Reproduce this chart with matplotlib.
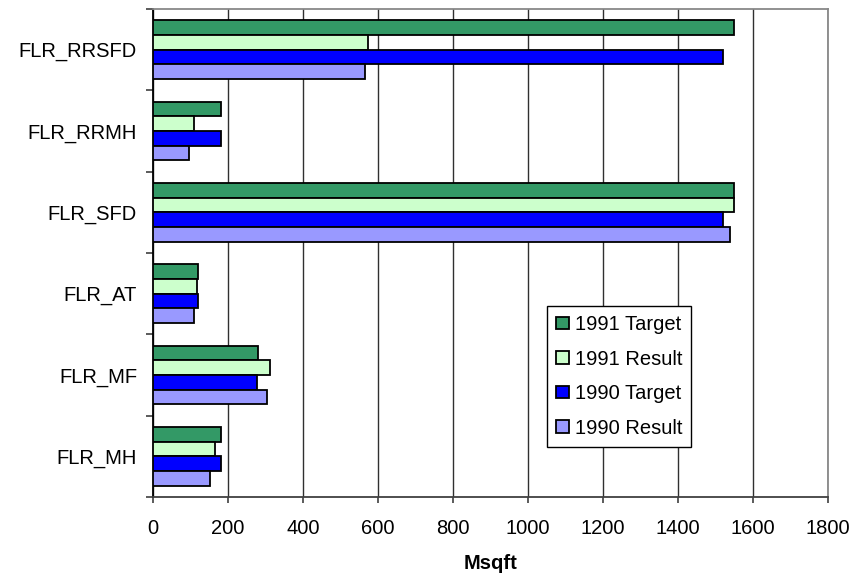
import matplotlib
matplotlib.use("Agg")
import matplotlib.pyplot as plt
import numpy as np

plt.rcParams['font.family'] = ['Liberation Sans', 'DejaVu Sans']

categories = ["FLR_RRSFD", "FLR_RRMH", "FLR_SFD", "FLR_AT", "FLR_MF", "FLR_MH"]
series_names = ["1991 Target", "1991 Result", "1990 Target", "1990 Result"]
target_1991 = [1548, 182, 1548, 119, 281, 182]
result_1991 = [572, 109, 1548, 118, 312, 166]
target_1990 = [1519, 180, 1519, 119, 277, 180]
result_1990 = [564, 97, 1539, 110, 303, 153]
series_values = [target_1991, result_1991, target_1990, result_1990]
colors = ["#339966", "#CCFFCC", "#0000FF", "#9999FF"]
x_ticks = list(range(0, 1801, 200))

FS = 14.5

fig = plt.figure(figsize=(8.65, 5.79), dpi=100)
ax = fig.add_axes([153 / 865, 1 - 497 / 579, 675 / 865, 488 / 579])

n_cat = len(categories)
bar_h = 0.18
centers = np.arange(n_cat)[::-1].astype(float)  # first category on top
for i, (name, vals, col) in enumerate(zip(series_names, series_values, colors)):
    offs = (1.5 - i) * bar_h
    ax.barh(centers + offs, vals, height=bar_h, color=col, edgecolor="black",
            linewidth=1.3, label=name, zorder=3)

ax.set_xlim(0, 1800)
ax.set_ylim(-0.5, n_cat - 0.5)
ax.set_xticks(x_ticks)
ax.set_xticklabels([str(v) for v in x_ticks], fontsize=FS)
ax.tick_params(axis="x", direction="out", length=4.5, width=1.2, pad=11, color="#404040")

# category ticks at group boundaries, labels at group centres
ax.set_yticks(np.arange(-0.5, n_cat, 1.0))
ax.set_yticklabels([])
ax.tick_params(axis="y", direction="out", length=5, width=1.2, color="#404040")
ax.set_yticks(centers, minor=True)
ax.set_yticklabels(categories, minor=True, fontsize=FS)
ax.tick_params(axis="y", which="minor", length=0, pad=11.5)

ax.xaxis.grid(True, color="#303030", linewidth=1.0, zorder=0)
ax.set_axisbelow(True)

ax.spines["left"].set_color("black")
ax.spines["left"].set_linewidth(1.3)
ax.spines["bottom"].set_color("#404040")
ax.spines["bottom"].set_linewidth(1.3)
ax.spines["top"].set_color("#888888")
ax.spines["top"].set_linewidth(1.3)
ax.spines["right"].set_color("#888888")
ax.spines["right"].set_linewidth(1.3)

ax.set_xlabel("Msqft", fontsize=FS, fontweight="bold", labelpad=12)

leg = ax.legend(loc="upper left", bbox_to_anchor=((547 - 153) / 675, (497 - 306) / 488),
                fontsize=FS, frameon=True, fancybox=False, shadow=False, framealpha=1,
                edgecolor="black", handlelength=0.62, handleheight=0.6,
                handletextpad=0.3, labelspacing=0.77, borderpad=0.45,
                borderaxespad=0)
leg.get_frame().set_linewidth(1.0)

fig.savefig("out.png", dpi=100)
